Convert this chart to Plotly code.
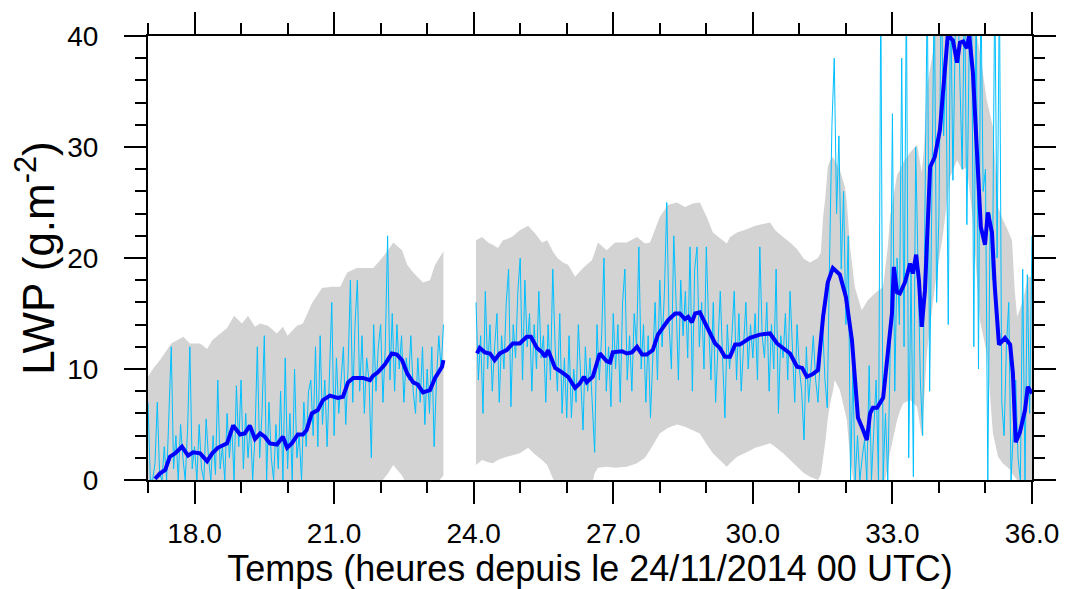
import numpy as np
import plotly.graph_objects as go

# ---------------- data ----------------
# raw LWP series (cyan), 3-min sampling, two segments separated by a gap
raw_t1 = np.round(np.arange(17.00, 23.351, 0.05), 2)
raw_v1 = [7, 0, 0, 1.5, 7, 0.5, 0, 3, 0, 6,
          12, 1, 4, 0, 5, 2, 0, 4.5, 12, 1,
          3, 0, 5, 1, 0, 5.5, 2, 0, 4, 0.5,
          9, 1, 3, 0, 6, 2, 5, 0, 8.5, 3,
          9, 1, 6, 2, 5, 0, 4, 12, 2, 6,
          13, 0, 7, 2, 0, 5, 1, 8, 0, 11,
          1, 6, 0, 10, 2, 4, 0, 7, 3, 8,
          9, 4, 12, 3, 13, 5, 9, 3, 10, 16,
          4, 11, 6, 9, 12, 5, 10, 18, 7, 14,
          18, 8, 13, 6, 11, 9, 2, 14, 8, 12,
          14, 7, 12, 22, 9, 15, 8, 14, 10, 13,
          7, 11, 9, 13, 8, 6, 11, 7, 12, 5,
          10, 6, 12, 3, 9, 13, 10, 14]
raw_t2 = np.round(np.arange(24.05, 36.001, 0.05), 2)
raw_v2 = [16, 9, 13, 6, 17, 10, 14, 8, 12, 15,
          7, 13, 10, 16, 19, 6.6, 14, 11, 17, 20,
          9, 18, 12, 15, 8, 14, 10, 17, 11, 13,
          7, 14, 9, 19, 12, 8, 15, 6, 11, 5.6,
          13, 5.6, 10, 7, 14, 9, 4.5, 12, 8, 11,
          6, 2.5, 14, 9, 13, 20, 8, 12, 6.6, 15,
          10, 14, 7, 16, 19, 9, 13, 8, 15, 12,
          21, 10, 14, 7, 13, 5.6, 11, 16, 9, 18,
          12, 17, 25, 14, 10, 22, 16, 9, 18, 13,
          17, 11, 21, 8, 19, 21, 12, 16, 10, 21,
          14, 9, 16, 7, 12, 17, 11, 5.6, 14, 10,
          13, 17, 9, 15, 8, 12, 16, 10, 14, 11,
          15, 9, 21, 13, 11, 16, 8, 14, 10, 19,
          6, 13, 11, 15, 9, 17, 12, 7, 14, 10,
          8, 3.6, 12, 7, 10, 13, 9, 7, 11, 14,
          9, 6.5, 20, 32, 38, 24, 31, 19, 26, 14,
          22, 0, 10, 0, 4, 0, 2, 3.6, 0, 10.3,
          0, 4.3, 9, 0, 45, 0, 6, 0, 11, 33,
          8, 20, 14, 38, 12, 45, 2, 19, 0.3, 30,
          18, 9, 4, 22, 45, 8, 25, 45, 16, 24,
          45, 31, 38, 14, 45, 27, 40, 45, 36, 28,
          45, 23, 39, 45, 12, 45, 10, 45, 26, 28,
          0, 24, 18, 45, 20, 45, 7, 4, 12, 16,
          0, 4.5, 9, 2, 0, 19, 0, 18.5, 6, 22]

# smoothed mean (thick blue)
mean_t1 = [17.15, 17.26, 17.37, 17.47, 17.58, 17.73, 17.86, 17.97, 18.12, 18.27,
           18.38, 18.50, 18.70, 18.83, 18.98, 19.08, 19.19, 19.30, 19.41, 19.51,
           19.62, 19.77, 19.90, 19.99, 20.09, 20.22, 20.33, 20.41, 20.52, 20.65,
           20.76, 20.91, 21.08, 21.19, 21.30, 21.41, 21.62, 21.77, 21.84, 21.94,
           22.09, 22.24, 22.35, 22.46, 22.57, 22.70, 22.80, 22.91, 23.06, 23.17,
           23.32, 23.35]
mean_v1 = [0.1, 0.6, 0.9, 2.1, 2.4, 3.0, 2.2, 2.5, 2.4, 1.7,
           2.4, 2.9, 3.3, 4.9, 4.1, 4.2, 4.9, 3.7, 4.2, 3.9,
           3.3, 3.2, 3.9, 2.9, 3.3, 4.1, 4.1, 4.5, 6.0, 6.3,
           7.2, 7.6, 7.4, 7.5, 8.8, 9.2, 9.2, 9.0, 9.4, 9.7,
           10.4, 11.4, 11.3, 10.8, 9.6, 8.8, 8.6, 7.9, 8.1, 9.2,
           10.2, 10.8]
mean_t2 = [24.07, 24.13, 24.24, 24.35, 24.45, 24.56, 24.71, 24.84, 24.99, 25.14,
           25.23, 25.36, 25.47, 25.53, 25.60, 25.75, 25.90, 26.03, 26.18, 26.28,
           26.37, 26.43, 26.56, 26.71, 26.86, 26.93, 26.99, 27.19, 27.29, 27.40,
           27.51, 27.62, 27.72, 27.85, 27.96, 28.07, 28.18, 28.33, 28.43, 28.54,
           28.61, 28.69, 28.76, 28.86, 28.97, 29.08, 29.19, 29.29, 29.40, 29.51,
           29.62, 29.72, 29.87, 29.94, 30.15, 30.37, 30.52, 30.65, 30.80, 30.95,
           31.06, 31.16, 31.27, 31.40, 31.51, 31.61, 31.72, 31.87, 32.00, 32.13,
           32.26, 32.37, 32.45, 32.52, 32.58, 32.67, 32.80, 32.90, 32.99, 33.03,
           33.10, 33.16, 33.27, 33.38, 33.44, 33.51, 33.57, 33.63, 33.70, 33.81,
           33.91, 34.02, 34.13, 34.19, 34.30, 34.39, 34.45, 34.52, 34.60, 34.65,
           34.73, 34.82, 34.90, 34.99, 35.05, 35.14, 35.20, 35.29, 35.42, 35.53,
           35.59, 35.65, 35.74, 35.85, 35.91, 36.0]
mean_v2 = [11.4, 11.9, 11.5, 11.4, 10.8, 11.4, 11.7, 12.3, 12.3, 12.9,
           12.9, 11.9, 11.5, 11.1, 11.7, 10.1, 9.7, 9.3, 8.3, 8.7,
           9.3, 8.8, 9.3, 11.4, 10.7, 10.6, 11.5, 11.6, 11.4, 11.5,
           12.0, 11.3, 11.3, 11.7, 13.1, 13.7, 14.4, 15.0, 15.0, 14.5,
           14.7, 14.2, 15.0, 15.1, 14.2, 13.3, 12.3, 11.9, 11.1, 11.1,
           12.2, 12.2, 12.6, 12.8, 13.1, 13.2, 12.3, 11.9, 11.4, 10.2,
           10.1, 9.3, 9.5, 9.9, 14.7, 17.8, 19.1, 18.5, 16.5, 12.6,
           5.6, 4.5, 3.6, 6.0, 6.5, 6.5, 7.4, 11.4, 15.0, 19.2,
           16.9, 16.8, 17.8, 19.5, 18.6, 20.3, 18.0, 13.8, 17.1, 28.2,
           29.1, 31.5, 37.8, 40.1, 39.6, 37.6, 39.4, 39.5, 38.9, 40.1,
           36.7, 29.5, 22.8, 21.2, 24.1, 22.3, 17.4, 12.2, 12.8, 12.2,
           9.6, 3.4, 4.3, 6.3, 8.4, 7.8]

# spread envelope (grey band)
band_t1 = [17.00, 17.12, 17.26, 17.50, 17.76, 17.90, 18.12, 18.27, 18.38, 18.70,
           18.85, 19.02, 19.15, 19.30, 19.41, 19.58, 19.77, 19.90, 20.00, 20.20,
           20.33, 20.52, 20.74, 20.95, 21.13, 21.28, 21.49, 21.71, 21.84, 21.99,
           22.16, 22.27, 22.46, 22.57, 22.70, 22.91, 23.06, 23.17, 23.35]
upper1 = [9.3, 10.1, 10.8, 12.3, 12.9, 12.3, 12.3, 11.8, 12.6, 13.7,
          14.8, 14.1, 14.8, 13.8, 14.1, 13.9, 13.2, 13.8, 13.0, 13.9,
          14.1, 15.9, 17.3, 17.4, 17.4, 18.7, 19.1, 19.1, 19.1, 19.8,
          20.7, 21.4, 20.7, 19.4, 18.7, 17.8, 18.0, 19.4, 20.6]
lower1 = [-8, -8, -7, -7, -7, -7, -7, -7, -7, -6,
          -6, -5, -5, -5, -5, -5, -5, -5, -5, -5,
          -5, -4, -3, -3, -2.5, -2, -1.5, -1.5, -1, -0.3,
          0.6, 1.35, 0.4, -0.5, -1.5, -2, -1, -0.5, 0.4]
band_t2 = [24.05, 24.18, 24.31, 24.41, 24.52, 24.63, 24.71, 24.82, 24.99, 25.17,
           25.32, 25.47, 25.58, 25.70, 25.80, 25.92, 26.03, 26.18, 26.35, 26.54,
           26.60, 26.67, 26.86, 27.04, 27.29, 27.51, 27.68, 27.79, 28.00, 28.18,
           28.37, 28.54, 28.71, 28.86, 29.01, 29.14, 29.29, 29.44, 29.51, 29.66,
           29.87, 30.05, 30.37, 30.48, 30.65, 30.80, 30.95, 31.10, 31.23, 31.40,
           31.46, 31.51, 31.56, 31.61, 31.66, 31.72, 31.76, 31.87, 31.98, 32.02,
           32.09, 32.15, 32.19, 32.34, 32.47, 32.62, 32.80, 32.90, 32.95, 33.10,
           33.16, 33.23, 33.38, 33.53, 33.63, 33.68, 33.74, 33.87, 33.95, 34.08,
           34.24, 34.39, 34.50, 34.60, 34.73, 34.80, 34.88, 35.03, 35.16, 35.27,
           35.37, 35.46, 35.53, 35.57, 35.63, 35.68, 35.81, 35.91, 36.00]
upper2 = [21.6, 21.9, 21.4, 21.2, 20.9, 21.6, 21.7, 21.9, 22.5, 22.9,
          22.2, 21.4, 21.6, 20.6, 20.0, 19.6, 19.4, 18.3, 19.1, 19.8,
          20.5, 21.4, 20.7, 21.4, 21.4, 21.9, 21.3, 21.4, 23.7, 24.8,
          25.0, 24.6, 24.9, 25.0, 23.7, 22.3, 21.8, 21.3, 21.9, 22.3,
          22.6, 22.9, 23.2, 22.5, 21.9, 21.4, 20.8, 19.9, 19.6, 20.0,
          20.5, 23.7, 25.5, 28.2, 28.8, 29.1, 28.8, 27.9, 26.4, 25.0,
          21.0, 18.5, 17.4, 15.3, 16.2, 16.8, 17.4, 21.0, 23.7, 27.5,
          27.9, 28.6, 29.5, 30.2, 27.7, 30.0, 35.4, 38.5, 41.0, 43.0,
          43.0, 43.0, 43.0, 43.0, 42.0, 40.5, 38.5, 34.2, 31.8, 24.6,
          23.5, 22.7, 22.0, 21.6, 17.0, 14.7, 16.2, 18.3, 18.3]
lower2 = [1.35, 1.8, 1.6, 1.5, 1.8, 2.0, 2.1, 2.2, 2.4, 2.9,
          2.3, 1.8, 1.35, 0.15, -0.8, -1.5, -2.0, -2.5, -2.0, -0.5,
          0.6, 1.1, 1.2, 1.1, 1.2, 1.5, 2.0, 2.7, 4.2, 4.7,
          5.0, 4.8, 4.5, 4.2, 3.2, 2.4, 1.8, 1.2, 1.5, 2.1,
          2.5, 2.9, 3.3, 3.0, 2.4, 1.8, 1.2, 0.6, 0.3, 0.0,
          0.5, 2.0, 3.5, 5.5, 6.9, 8.0, 9.0, 8.1, 6.0, 5.4,
          2.0, 0, -1, -3, -3, -2.5, -1, 1.2, 2.5, 5.4,
          6.2, 6.9, 7.2, 6.6, 3.9, 7.0, 11.4, 16.0, 18.6, 21.9,
          27.3, 28.8, 27.9, 28.2, 23.4, 19.0, 14.4, 11.4, 4.2, 2.1,
          1.5, 1.2, 0.9, 0.6, 0.3, 0.0, -1.0, -1.5, -1.5]

x_major = [18, 21, 24, 27, 30, 33, 36]
x_labels = ["18.0", "21.0", "24.0", "27.0", "30.0", "33.0", "36.0"]
y_major = [0, 10, 20, 30, 40]

GREY = "#d3d3d3"
CYAN = "#00bfff"
BLUE = "#0000ff"
FONT = "Liberation Sans, Arial, Helvetica, sans-serif"

fig = go.Figure()

# grey spread bands (one per segment)
for bt, lo, up in ((band_t1, lower1, upper1), (band_t2, lower2, upper2)):
    fig.add_trace(go.Scatter(x=bt, y=lo, mode="lines", line=dict(width=0, color=GREY),
                             hoverinfo="skip", showlegend=False))
    fig.add_trace(go.Scatter(x=bt, y=up, mode="lines", line=dict(width=0, color=GREY),
                             fill="tonexty", fillcolor=GREY, hoverinfo="skip", showlegend=False))

# raw series
for rt, rv in ((raw_t1, raw_v1), (raw_t2, raw_v2)):
    fig.add_trace(go.Scatter(x=rt, y=rv, mode="lines", line=dict(width=1, color=CYAN),
                             showlegend=False))

# smoothed mean
for mt, mv in ((mean_t1, mean_v1), (mean_t2, mean_v2)):
    fig.add_trace(go.Scatter(x=mt, y=mv, mode="lines", line=dict(width=4, color=BLUE),
                             showlegend=False))

axis_common = dict(
    showgrid=False, zeroline=False,
    showline=True, linecolor="black", linewidth=2,
    mirror="ticks", ticks="outside", ticklen=22, tickwidth=2, tickcolor="black",
    tickfont=dict(family=FONT, size=28, color="black"),
)

fig.update_xaxes(
    range=[17, 36], tickvals=x_major, ticktext=x_labels,
    minor=dict(tick0=17, dtick=1, ticks="outside", ticklen=11, tickwidth=1.5, tickcolor="black"),
    ticklabelstandoff=5,
    title=dict(text="Temps (heures depuis le 24/11/2014 00 UTC)",
               font=dict(family=FONT, size=36, color="black"), standoff=16),
    **axis_common,
)
fig.update_yaxes(
    range=[0, 40], tickvals=y_major,
    minor=dict(tick0=0, dtick=2, ticks="outside", ticklen=11, tickwidth=1.5, tickcolor="black"),
    ticklabelstandoff=20,
    title=dict(text="LWP (g.m<sup>-2</sup>)",
               font=dict(family=FONT, size=44, color="black"), standoff=11),
    **axis_common,
)

# the page places the figure 8 px from the top-left corner, so the figure is
# sized/margined to land the plot area where the reference has it
fig.update_layout(
    width=1059, height=581,
    margin=dict(l=140, r=35, t=28, b=109, autoexpand=False),
    plot_bgcolor="white", paper_bgcolor="white",
    showlegend=False,
)

fig.write_html("out.html")
